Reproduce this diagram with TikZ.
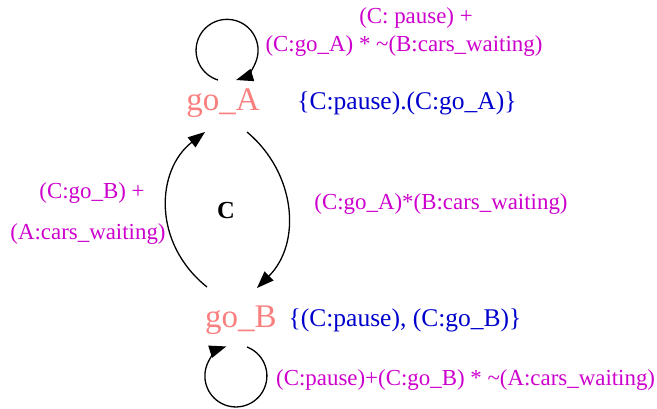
\documentclass[tikz,border=0pt]{standalone}
\usepackage{fontspec}
\setmainfont{Liberation Serif}
\usetikzlibrary{arrows.meta}
\definecolor{statecol}{HTML}{FA8080}
\definecolor{outcol}{HTML}{0000CD}
\definecolor{condcol}{HTML}{CD00CD}
\tikzset{
  state/.style={inner sep=0pt, text=statecol, font=\fontsize{33}{36}\selectfont},
  outlbl/.style={inner sep=0pt, text=outcol, font=\fontsize{25.5}{30}\selectfont},
  cond/.style={inner sep=0pt, text=condcol, font=\fontsize{22.9}{27}\selectfont, align=center},
  grp/.style={inner sep=0pt, font=\bfseries\fontsize{24.5}{27}\selectfont},
  arr/.style={-{Triangle[length=17pt,width=12.5pt]}, line width=1.3pt, black},
}
\begin{document}
\begin{tikzpicture}[x=1pt,y=1pt]
\useasboundingbox (0,0) rectangle (657,408);
% states
\node[state] (goA) at (223,305) {go\_A};
\node[state] (goB) at (241,88) {go\_B};
\node[outlbl] (outA) at (407,305) {\{C:pause).(C:go\_A)\}};
\node[outlbl] (outB) at (405,88) {\{(C:pause), (C:go\_B)\}};
% loop A
\coordinate (la) at ([shift={(-5,23)}]goA.center);
\draw[arr] (la) arc[start angle=253, end angle=-73, radius=31];
\node[cond] (lblA1) at (416,390) {(C: pause) +};
\node[cond] (lblA2) at (404,362) {(C:go\_A) * \textasciitilde(B:cars\_waiting)};
% loop B
\coordinate (lb) at ([shift={(6,-27)}]goB.center);
\draw[arr] (lb) arc[start angle=69, end angle=-252, radius=31];
\node[cond,anchor=west] (lblB) at (276,28) {(C:pause)+(C:go\_B) * \textasciitilde(A:cars\_waiting)};
% A -> B
\draw[arr] ([shift={(24,-29)}]goA.center) .. controls (296,235) and (302,165) .. ([shift={(16,32)}]goB.center);
\node[cond] (lblAB) at (441,204) {(C:go\_A)*(B:cars\_waiting)};
% B -> A
\draw[arr] ([shift={(-34,33)}]goB.center) .. controls (152,165) and (156,238) .. ([shift={(-18,-29)}]goA.center);
\node[cond] (lblBA1) at (92,215) {(C:go\_B) +};
\node[cond] (lblBA2) at (88,174) {(A:cars\_waiting)};
% group label
\node[grp] (grpC) at (226,197) {C};
\end{tikzpicture}
\end{document}
